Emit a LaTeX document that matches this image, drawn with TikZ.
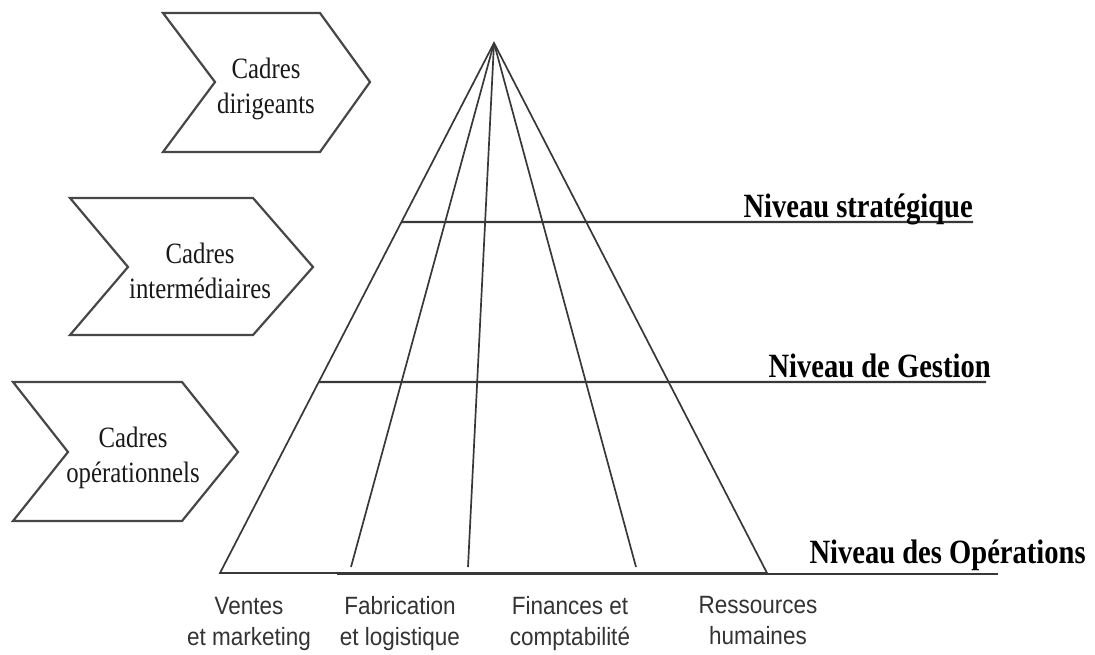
\documentclass[tikz,border=0pt]{standalone}
\usepackage{fontspec}
\setmainfont[FakeStretch=0.84]{Liberation Serif}
\newfontfamily\deptfont[FakeStretch=0.9]{Liberation Sans}
\usetikzlibrary{calc}

\begin{document}
\begin{tikzpicture}[x=1pt, y=-1pt,
    line/.style={draw=black!78, line width=1.7pt},
    level/.style={draw=black!78, line width=2.1pt},
    chev/.style={draw=black!72, line width=2.2pt, line join=miter},
    cadre/.style={align=center, text=black!90, font=\fontsize{29.5}{35}\selectfont},
    niveau/.style={anchor=base west, font=\fontsize{34}{40}\selectfont\bfseries},
    dept/.style={align=center, text=black!80, font=\deptfont\fontsize{25}{31}\selectfont}]
    \useasboundingbox (0,0) rectangle (1095,655);
    % chevrons
    \draw[chev] (163,13) -- (320,13) -- (370,82) -- (320,152) -- (163,152) -- (215,82) -- cycle;
    \draw[chev] (70,198) -- (253,198) -- (313,267) -- (253,335) -- (70,335) -- (128,267) -- cycle;
    \draw[chev] (13,382) -- (182,382) -- (238,452) -- (182,521) -- (13,521) -- (68,452) -- cycle;
    \node[cadre] (dir) at (266,89) {Cadres\\dirigeants};
    \node[cadre] (inter) at (200,271) {Cadres\\intermédiaires};
    \node[cadre] (oper) at (133,458) {Cadres\\opérationnels};
    % pyramid
    \coordinate (apex) at (494,43);
    \coordinate (bl) at (220,573);
    \coordinate (br) at (767,573);
    \coordinate (d1) at (351,567);
    \coordinate (d2) at (468,567);
    \coordinate (d3) at (636,567);
    \draw[line] (apex) -- (bl) -- (br) -- cycle;
    \draw[line] (apex) -- (d1);
    \draw[line] (apex) -- (d2);
    \draw[line] (apex) -- (d3);
    % levels
    \coordinate (s1) at ($(apex)!0.3377!(bl)$);
    \coordinate (s2) at ($(apex)!0.6396!(bl)$);
    \coordinate (s3) at (337,574);
    \coordinate (e1) at (973,222);
    \coordinate (e2) at (986,382);
    \coordinate (e3) at (998,574);
    \draw[level] (s1) -- (e1);
    \draw[level] (s2) -- (e2);
    \draw[level] (s3) -- (e3);
    \node[niveau] (strat) at (740,218) {Niveau stratégique};
    \node[niveau] (gest) at (765,377) {Niveau de Gestion};
    \node[niveau] (ops) at (806,563) {Niveau des Opérations};
    % functions
    \node[dept] (ventes) at (249,624) {Ventes\\et marketing};
    \node[dept] (fab) at (400,624) {Fabrication\\et logistique};
    \node[dept] (fin) at (570,624) {Finances et\\comptabilité};
    \node[dept] (rh) at (758,621) {Ressources\\humaines};
\end{tikzpicture}
\end{document}
